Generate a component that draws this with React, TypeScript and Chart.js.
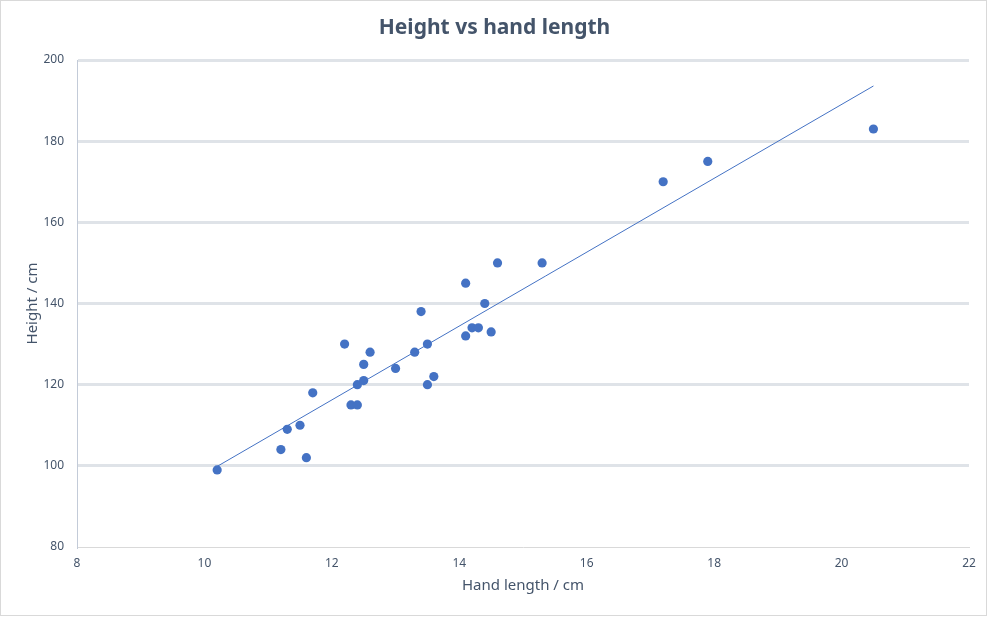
import React, { useEffect, useRef } from "react";
import { Chart, registerables } from "chart.js";

Chart.register(...registerables);

const handLength = [10.2, 11.2, 11.3, 11.5, 11.6, 11.7, 12.2, 12.3, 12.4, 12.4, 12.5, 12.5, 12.6, 13.0, 13.3, 13.4, 13.5, 13.5, 13.6, 14.1, 14.1, 14.2, 14.3, 14.4, 14.5, 14.6, 15.3, 17.2, 17.9, 20.5];
const heightCm = [99, 104, 109, 110, 102, 118, 130, 115, 115, 120, 121, 125, 128, 124, 128, 138, 130, 120, 122, 132, 145, 134, 134, 140, 133, 150, 150, 170, 175, 183];
const xTickValues = [8, 10, 12, 14, 16, 18, 20, 22];
const yTickValues = [80, 100, 120, 140, 160, 180, 200];

const TEXT = "#44546A";
const FONT = "'Noto Sans', 'Open Sans', sans-serif";

function trendLine() {
  const n = handLength.length;
  const mx = handLength.reduce((a, b) => a + b, 0) / n;
  const my = heightCm.reduce((a, b) => a + b, 0) / n;
  let sxy = 0;
  let sxx = 0;
  for (let i = 0; i < n; i++) {
    sxy += (handLength[i] - mx) * (heightCm[i] - my);
    sxx += (handLength[i] - mx) * (handLength[i] - mx);
  }
  const slope = sxy / sxx;
  const icpt = my - slope * mx;
  const x0 = Math.min(...handLength);
  const x1 = Math.max(...handLength);
  return [
    { x: x0, y: icpt + slope * x0 },
    { x: x1, y: icpt + slope * x1 },
  ];
}

export default function App() {
  const ref = useRef<HTMLCanvasElement | null>(null);

  useEffect(() => {
    if (!ref.current) return;
    const chart = new Chart(ref.current, {
      type: "scatter",
      data: {
        datasets: [
          {
            label: "Height",
            data: handLength.map((x, i) => ({ x, y: heightCm[i] })),
            backgroundColor: "#4472C4",
            borderColor: "#4472C4",
            borderWidth: 0,
            pointRadius: 4.6,
          },
          {
            label: "Trend",
            data: trendLine(),
            showLine: true,
            borderColor: "#4472C4",
            borderWidth: 1,
            pointRadius: 0,
            fill: false,
          } as any,
        ],
      },
      options: {
        animation: false,
        responsive: true,
        maintainAspectRatio: false,
        layout: { padding: { left: 20, right: 24, top: 0, bottom: 20 } },
        plugins: {
          legend: { display: false },
          tooltip: { enabled: false },
          title: {
            display: true,
            text: "Height vs hand length",
            color: TEXT,
            font: { family: FONT, size: 21, weight: "bold", lineHeight: 1.2 },
            padding: { top: 15, bottom: 19.8 },
          },
        },
        scales: {
          x: {
            type: "linear",
            min: 8,
            max: 22,
            afterBuildTicks: (axis: any) => {
              axis.ticks = xTickValues.map((v) => ({ value: v }));
            },
            afterFit: (axis: any) => {
              axis.height = 52;
            },
            grid: { display: false, drawTicks: false },
            border: { display: true, color: "#D9D9D9", width: 1 },
            ticks: {
              color: TEXT,
              font: { family: FONT, size: 12 },
              padding: 9,
            },
            title: {
              display: true,
              text: "Hand length / cm",
              color: TEXT,
              font: { family: FONT, size: 15 },
            },
          },
          y: {
            type: "linear",
            min: 80,
            max: 200,
            afterBuildTicks: (axis: any) => {
              axis.ticks = yTickValues.map((v) => ({ value: v }));
            },
            afterFit: (axis: any) => {
              axis.width = 57;
            },
            grid: {
              drawTicks: false,
              lineWidth: 3,
              color: (ctx: any) => (ctx.tick && ctx.tick.value === 80 ? "rgba(0,0,0,0)" : "#DFE3E8"),
            },
            border: { display: true, color: "#C3CBD8", width: 1 },
            ticks: {
              color: TEXT,
              font: { family: FONT, size: 12 },
              padding: 13,
            },
            title: {
              display: true,
              text: "Height / cm",
              color: TEXT,
              font: { family: FONT, size: 15 },
            },
          },
        },
      },
    });
    return () => chart.destroy();
  }, []);

  return (
    <div
      style={{
        position: "fixed",
        left: 0,
        top: 0,
        width: 993,
        height: 619,
        background: "#ffffff",
      }}
    >
      <div
        style={{
          position: "absolute",
          left: 0,
          top: 0,
          width: 987,
          height: 616,
          border: "1px solid #D9D9D9",
          boxSizing: "border-box",
          pointerEvents: "none",
        }}
      />
      <canvas ref={ref} />
    </div>
  );
}
